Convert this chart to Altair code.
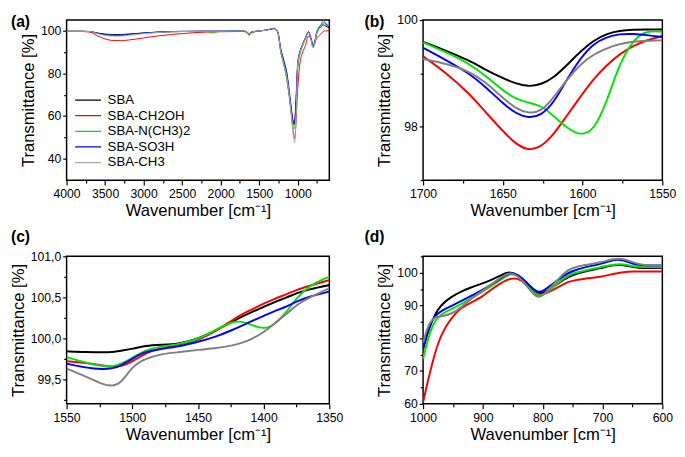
import altair as alt
import pandas as pd

SERIES = ["SBA", "SBA-CH2OH", "SBA-N(CH3)2", "SBA-SO3H", "SBA-CH3"]
COLORS_A = ["#000000", "#ff0000", "#00e000", "#0000ff", "#a9a9b8"]
COLORS = ["#000000", "#ff0000", "#00e600", "#0000ff", "#808080"]

# ---------------- panel (a): full spectrum ----------------
a_wn = [4000, 3800, 3700, 3600, 3500, 3400, 3300, 3200, 3000, 2800, 2500, 2200, 2160, 2140,
        2000, 1800, 1700, 1660, 1630, 1600, 1500, 1400, 1315, 1260, 1220, 1180, 1140, 1100,
        1070, 1050, 1040, 1025, 1000, 970, 940, 900, 862, 830, 800, 785, 760, 730, 700, 665,
        640, 590]
a_sba = [99.7, 99.7, 99.6, 98.9, 98.4, 98.2, 98.2, 98.4, 98.9, 99.3, 99.6, 99.7, 99.7, 99.7,
         99.7, 99.8, 99.8, 99.4, 98.6, 99.3, 99.9, 100.3, 101.0, 99.5, 91.0, 85.5, 79.0, 67.5,
         59.0, 56.0, 56.5, 64.0, 84.0, 90.0, 93.0, 96.5, 99.5, 96.5, 92.5, 93.5, 98.0, 101.0,
         101.8, 102.7, 102.2, 101.2]
a_ch2oh = [99.7, 99.6, 99.3, 97.6, 96.1, 95.4, 95.3, 95.6, 96.6, 97.6, 98.6, 99.3, 99.3, 99.3,
           99.5, 99.6, 99.6, 99.0, 97.9, 99.0, 99.8, 100.3, 101.0, 99.3, 90.0, 84.0, 77.0, 66.0,
           56.0, 50.5, 49.5, 55.0, 73.0, 85.0, 89.5, 93.0, 97.5, 96.0, 93.0, 93.5, 96.0, 97.5,
           98.5, 99.7, 99.9, 100.0]
a_nch3 = [99.7, 99.7, 99.6, 98.7, 98.0, 97.8, 97.8, 98.1, 98.8, 99.3, 99.6, 99.7, 99.7, 98.9,
          99.7, 99.8, 99.8, 99.0, 97.9, 99.2, 99.9, 100.3, 101.0, 99.3, 90.0, 84.0, 77.0, 66.5,
          57.5, 54.0, 54.5, 62.0, 82.0, 89.0, 92.5, 96.0, 99.3, 96.3, 92.0, 93.0, 97.5, 100.3,
          101.5, 103.5, 102.8, 102.0]
a_so3h = [99.7, 99.7, 99.6, 98.8, 98.1, 97.9, 97.9, 98.2, 98.9, 99.4, 99.7, 99.8, 99.8, 99.8,
          99.8, 99.8, 99.8, 99.3, 98.5, 99.3, 99.9, 100.3, 101.0, 99.6, 91.5, 86.0, 80.0, 69.0,
          60.0, 56.5, 57.5, 66.0, 85.0, 90.5, 93.5, 96.8, 99.5, 96.8, 93.5, 94.0, 98.5, 101.5,
          102.5, 104.7, 103.5, 101.8]
a_ch3 = [99.7, 99.7, 99.6, 98.6, 97.8, 97.4, 97.4, 97.8, 98.6, 99.2, 99.6, 99.7, 99.7, 99.7,
         99.7, 99.8, 99.8, 99.3, 98.6, 99.3, 99.9, 100.3, 101.2, 99.5, 90.5, 84.5, 78.0, 67.0,
         56.0, 49.0, 47.5, 58.0, 84.0, 90.0, 93.0, 96.5, 99.3, 96.3, 92.0, 93.0, 98.0, 101.5,
         102.8, 104.7, 103.8, 102.5]

# ---------------- panel (b): 1700-1550 ----------------
b_wn = [1700, 1685, 1671, 1661, 1650, 1642, 1634, 1626, 1618, 1610, 1601, 1593, 1585, 1577,
        1568, 1560, 1550]
b_sba = [99.59, 99.42, 99.24, 99.07, 98.91, 98.81, 98.75, 98.79, 98.92, 99.15, 99.42, 99.62,
         99.74, 99.80, 99.82, 99.82, 99.82]
b_ch2oh = [99.32, 99.00, 98.62, 98.28, 97.92, 97.68, 97.55, 97.62, 97.86, 98.20, 98.58, 98.90,
           99.15, 99.36, 99.52, 99.62, 99.70]
b_nch3 = [99.58, 99.39, 99.18, 98.96, 98.68, 98.52, 98.45, 98.40, 98.20, 97.98, 97.83, 97.93,
          98.45, 99.18, 99.64, 99.80, 99.78]
b_so3h = [99.48, 99.24, 99.00, 98.75, 98.44, 98.25, 98.16, 98.21, 98.45, 98.88, 99.30, 99.56,
          99.68, 99.74, 99.74, 99.72, 99.68]
b_ch3 = [99.27, 99.18, 99.04, 98.84, 98.54, 98.34, 98.25, 98.28, 98.55, 98.88, 99.18, 99.36,
         99.47, 99.55, 99.60, 99.61, 99.62]

# ---------------- panel (c): 1550-1350 ----------------
c_wn = [1550, 1535, 1523, 1515, 1508, 1500, 1490, 1478, 1464, 1449, 1436, 1424, 1417, 1409,
        1399, 1392, 1382, 1375, 1365, 1350]
c_sba = [99.84, 99.83, 99.83, 99.83, 99.85, 99.87, 99.91, 99.92, 99.93, 100.00, 100.10, 100.20,
         100.26, 100.32, 100.39, 100.44, 100.50, 100.55, 100.60, 100.65]
c_ch2oh = [99.72, 99.70, 99.67, 99.65, 99.66, 99.71, 99.82, 99.88, 99.92, 99.98, 100.09, 100.22,
           100.29, 100.35, 100.43, 100.48, 100.54, 100.59, 100.64, 100.71]
c_nch3 = [99.77, 99.70, 99.66, 99.65, 99.69, 99.76, 99.86, 99.90, 99.93, 99.99, 100.11, 100.20,
          100.21, 100.16, 100.11, 100.16, 100.33, 100.49, 100.65, 100.75]
c_so3h = [99.69, 99.64, 99.62, 99.63, 99.67, 99.75, 99.84, 99.87, 99.90, 99.96, 100.02, 100.10,
          100.15, 100.21, 100.28, 100.33, 100.39, 100.45, 100.51, 100.57]
c_ch3 = [99.63, 99.53, 99.44, 99.41, 99.46, 99.66, 99.75, 99.81, 99.83, 99.86, 99.88, 99.91,
         99.94, 99.99, 100.08, 100.18, 100.30, 100.41, 100.50, 100.61]

# ---------------- panel (d): 1000-600 ----------------
d_wn = [1000, 991, 980, 969, 952, 936, 920, 903, 887, 870, 862, 854, 843, 830, 813, 804, 785,
        763, 752, 730, 703, 681, 665, 648, 632, 600]
d_sba = [76.7, 82.5, 87.5, 90.4, 92.8, 94.3, 95.5, 96.6, 97.7, 99.2, 99.9, 100.2, 99.5, 97.5,
         94.5, 93.3, 95.3, 98.2, 99.2, 100.4, 101.4, 102.4, 102.4, 101.7, 101.4, 101.4]
d_ch2oh = [60.5, 67.8, 75.7, 81.6, 86.5, 89.4, 90.9, 92.4, 94.8, 96.8, 97.6, 98.2, 98.4, 97.0,
           93.6, 93.0, 94.5, 96.8, 97.5, 98.2, 98.7, 99.7, 100.2, 100.4, 100.4, 100.4]
d_nch3 = [73.7, 80.6, 85.5, 87.5, 88.9, 90.5, 92.2, 93.9, 95.8, 97.8, 98.9, 99.6, 99.4, 97.2,
          93.3, 92.6, 95.1, 98.7, 99.7, 100.7, 101.7, 102.6, 102.6, 101.9, 101.7, 101.7]
d_so3h = [76.7, 83.5, 87.0, 88.4, 89.9, 91.4, 92.9, 94.5, 96.3, 98.3, 99.3, 100.0, 99.6, 97.6,
          94.3, 93.8, 96.3, 99.4, 100.4, 101.7, 102.6, 104.1, 103.9, 102.6, 102.2, 102.2]
d_ch3 = [78.6, 84.5, 86.5, 86.7, 87.4, 89.5, 92.0, 94.2, 96.3, 98.5, 99.5, 100.0, 99.3, 96.8,
         92.8, 92.2, 95.8, 100.2, 101.4, 102.4, 103.1, 104.3, 104.3, 103.1, 102.2, 102.2]

FONT = "Liberation Sans"
XTITLE = "Wavenumber [cm\u207b\u00b9]"
YTITLE = "Transmittance [%]"


def long_df(wn, ys):
    rows = []
    for name, vals in zip(SERIES, ys):
        for x, y in zip(wn, vals):
            rows.append({"wn": x, "T": y, "series": name})
    return pd.DataFrame(rows)


def x_axis(values, test):
    return alt.Axis(values=values, title=XTITLE, grid=False, domain=False,
                    labelExpr=f"({test}) ? format(datum.value, 'd') : ''",
                    tickSize={"condition": {"test": test, "value": 5}, "value": 3},
                    labelOverlap=False, labelFlush=False, labelPadding=3, titlePadding=3,
                    labelFontSize=12.5, titleFontSize=17, labelFont=FONT, titleFont=FONT,
                    labelColor="black", titleColor="black", titleFontWeight="normal",
                    tickColor="black", tickWidth=1.2)


def y_axis(values, test, comma=False):
    if comma:
        lab = f"({test}) ? replace(format(datum.value, '.1f'), '.', ',') : ''"
    else:
        lab = f"({test}) ? format(datum.value, 'd') : ''"
    return alt.Axis(values=values, title=YTITLE, grid=False, domain=False,
                    labelExpr=lab,
                    tickSize={"condition": {"test": test, "value": 4}, "value": 3},
                    labelOverlap=False, labelFlush=False, labelPadding=2, titlePadding=3,
                    labelFontSize=12.5, titleFontSize=17, labelFont=FONT, titleFont=FONT,
                    labelColor="black", titleColor="black", titleFontWeight="normal",
                    tickColor="black", tickWidth=1.2)


def panel(wn, ys, xdom, ydom, xvals, xtest, yvals, ytest, label, lx, ly, w, h,
          colors, sw, interp, legend=None, comma=False):
    df = long_df(wn, ys)
    lines = alt.Chart(df).mark_line(clip=True, strokeWidth=sw, interpolate=interp).encode(
        x=alt.X("wn:Q", scale=alt.Scale(domain=xdom, reverse=True, nice=False, zero=False),
                axis=x_axis(xvals, xtest)),
        y=alt.Y("T:Q", scale=alt.Scale(domain=ydom, nice=False, zero=False),
                axis=y_axis(yvals, ytest, comma)),
        color=alt.Color("series:N", sort=SERIES,
                        scale=alt.Scale(domain=SERIES, range=colors), legend=legend),
    )
    txt = alt.Chart(pd.DataFrame({"t": [label]})).mark_text(
        align="left", baseline="top", fontSize=16, fontWeight="bold", font=FONT, color="black"
    ).encode(text="t:N", x=alt.value(lx), y=alt.value(ly))
    return alt.layer(lines, txt).properties(width=w, height=h)


legend_a = alt.Legend(orient="none", legendX=8, legendY=74, title=None, labelFontSize=13.5,
                      labelFont=FONT, labelColor="black", symbolType="stroke", symbolSize=700,
                      symbolStrokeWidth=1.3, clipHeight=16, rowPadding=0, labelOffset=6,
                      padding=0)

W1, W2, H1, H2 = 269, 245, 164, 151

pa = panel(a_wn, [a_sba, a_ch2oh, a_nch3, a_so3h, a_ch3], [590, 4000], [30, 105],
           list(range(750, 4001, 250)), "datum.value % 500 === 0",
           [40, 50, 60, 70, 80, 90, 100], "datum.value % 20 === 0",
           "(a)", -57, -6, W1, H1, COLORS_A, 1.0, "monotone", legend=legend_a)
pb = panel(b_wn, [b_sba, b_ch2oh, b_nch3, b_so3h, b_ch3], [1550, 1700], [97, 100],
           [1550, 1575, 1600, 1625, 1650, 1675, 1700], "datum.value % 50 === 0",
           [97, 98, 99, 100], "datum.value % 2 === 0",
           "(b)", -60, -6, W2, H1, COLORS, 2.0, "basis")
pc = panel(c_wn, [c_sba, c_ch2oh, c_nch3, c_so3h, c_ch3], [1350, 1550], [99.2, 101.0],
           [1350, 1375, 1400, 1425, 1450, 1475, 1500, 1525, 1550], "datum.value % 50 === 0",
           [99.25, 99.5, 99.75, 100.0, 100.25, 100.5, 100.75, 101.0],
           "abs(datum.value * 2 - round(datum.value * 2)) < 0.001",
           "(c)", -57, -28, W1, H2, COLORS, 2.0, "basis", comma=True)
pd_ = panel(d_wn, [d_sba, d_ch2oh, d_nch3, d_so3h, d_ch3], [600, 1000], [60, 105],
            [600, 650, 700, 750, 800, 850, 900, 950, 1000], "datum.value % 100 === 0",
            [60, 65, 70, 75, 80, 85, 90, 95, 100, 105], "datum.value % 10 === 0",
            "(d)", -60, -28, W2, H2, COLORS, 2.0, "basis")

chart = alt.concat(pa, pb, pc, pd_, columns=2, spacing={"row": 8, "column": 20}).resolve_scale(
    color="independent"
).properties(padding=0, background="white").configure_view(
    stroke="black", strokeWidth=1.5
)

chart.save("out.html", embed_options={"renderer": "svg", "actions": False})
